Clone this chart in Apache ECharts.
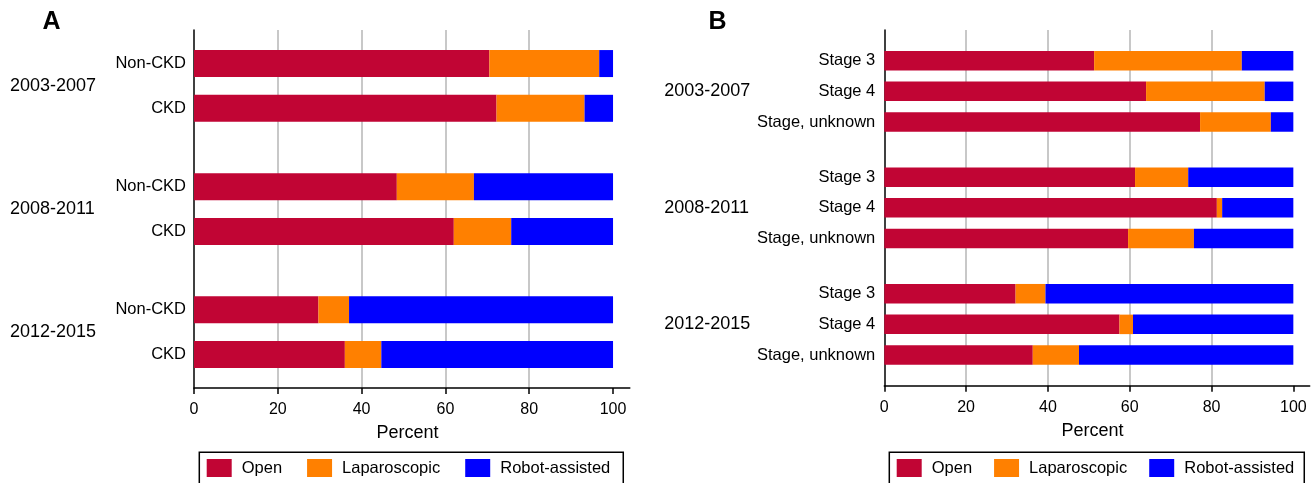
<!DOCTYPE html>
<html><head><meta charset="utf-8">
<script src="https://cdn.jsdelivr.net/npm/echarts@6/dist/echarts.min.js"></script>
<style>html,body{margin:0;padding:0;background:#fff}#c{width:1316px;height:483px}</style>
</head><body><div id="c"></div>
<script>
const periods = ['2003-2007', '2008-2011', '2012-2015'];
const ckdGroups = ['Non-CKD', 'CKD'];
const stageGroups = ['Stage 3', 'Stage 4', 'Stage, unknown'];
const seriesNames = ['Open', 'Laparoscopic', 'Robot-assisted'];
const xTicks = [0, 20, 40, 60, 80, 100];
// Panel A (period x CKD group)
const openA  = [70.5, 72.2, 48.4, 62.0, 29.7, 36.0];
const lapA   = [26.2, 21.0, 18.4, 13.7, 7.3, 8.7];
const robotA = [3.3, 6.8, 33.2, 24.3, 63.0, 55.3];
// Panel B (period x stage)
const openB  = [51.3, 64.0, 77.2, 61.3, 81.3, 59.6, 32.1, 57.5, 36.3];
const lapB   = [36.1, 29.0, 17.3, 13.0, 1.3, 16.1, 7.3, 3.3, 11.3];
const robotB = [12.6, 7.0, 5.5, 25.7, 17.4, 24.3, 60.6, 39.2, 52.4];

const colors = ['#C10534', '#FF8000', '#0000FF'];
const FONT = '"Liberation Sans", Arial, sans-serif';

function buildSlots(groups, edge, within, between) {
  const rowIdx = [], centerIdx = [];
  let pos = edge;
  periods.forEach((p, pi) => {
    const start = pos;
    groups.forEach((g, gi) => { rowIdx.push(pos); if (gi < groups.length - 1) pos += within; });
    centerIdx.push((start + pos) / 2);
    if (pi < periods.length - 1) pos += between;
  });
  const n = pos + edge + 1;
  const sub = new Array(n).fill(''), per = new Array(n).fill('');
  let k = 0;
  periods.forEach((p, pi) => {
    groups.forEach(g => { sub[rowIdx[k]] = g; k++; });
    per[centerIdx[pi]] = p;
  });
  return { n, rowIdx, sub, per };
}
function pad(slots, vals) {
  const arr = new Array(slots.n).fill('-');
  slots.rowIdx.forEach((r, i) => { arr[r] = vals[i]; });
  return arr;
}

const slotsA = buildSlots(ckdGroups, 3, 4, 7);
const slotsB = buildSlots(stageGroups, 5, 5, 9);

function xAxisCfg(gi) {
  return {
    type: 'value', gridIndex: gi, min: 0, max: 104, position: 'bottom',
    axisLine: { show: true, lineStyle: { color: '#000', width: 1.5 } },
    axisTick: { show: true, length: 6, lineStyle: { color: '#000', width: 1.5 }, customValues: xTicks },
    axisLabel: { customValues: xTicks, color: '#000', fontSize: 16, fontFamily: FONT, margin: 14 },
    splitLine: { show: true, showMinLine: false, showMaxLine: false, lineStyle: { color: '#c8c8c8', width: 2 } },
    name: 'Percent', nameLocation: 'middle', nameGap: 36,
    nameTextStyle: { color: '#000', fontSize: 18, fontFamily: FONT, padding: [0, 9, 0, 0] }
  };
}
function yAxisSub(gi, slots, margin) {
  return {
    type: 'category', gridIndex: gi, position: 'left', data: slots.sub, inverse: true, boundaryGap: false,
    axisLine: { show: true, lineStyle: { color: '#000', width: 1.5 } },
    axisTick: { show: false }, splitLine: { show: false },
    axisLabel: { interval: 0, color: '#000', fontSize: 16.5, fontFamily: FONT, margin: margin }
  };
}
function yAxisPer(gi, slots, margin) {
  return {
    type: 'category', gridIndex: gi, position: 'left', offset: 0, data: slots.per, inverse: true, boundaryGap: false,
    axisLine: { show: false }, axisTick: { show: false }, splitLine: { show: false },
    axisLabel: { interval: 0, color: '#000', fontSize: 18, fontFamily: FONT, margin: margin, align: 'left' }
  };
}

const series = [];
[[openA, lapA, robotA], [openB, lapB, robotB]].forEach((vals, panel) => {
  const slots = panel === 0 ? slotsA : slotsB;
  vals.forEach((v, si) => {
    series.push({
      type: 'bar', name: seriesNames[si], stack: 'p' + panel,
      xAxisIndex: panel, yAxisIndex: panel * 2,
      barWidth: panel === 0 ? 27 : 19.5,
      itemStyle: { color: colors[si] },
      data: pad(slots, v), animation: false
    });
  });
});

function legendCfg(left, gap, padRight) {
  return {
    left: left, top: 452.3, orient: 'horizontal',
    data: seriesNames, icon: 'rect', itemWidth: 25, itemHeight: 18, itemGap: gap,
    borderColor: '#000', borderWidth: 1.5, padding: [6.7, padRight, 6.7, 7.4],
    textStyle: { color: '#000', fontSize: 16.5, fontFamily: FONT, padding: [0, 0, 0, 5] },
    selectedMode: false
  };
}

const chart = echarts.init(document.getElementById('c'));
chart.setOption({
  animation: false,
  color: colors,
  title: [
    { text: 'A', left: 42.5, top: 10, padding: 0, textStyle: { fontSize: 25, fontWeight: 'bold', color: '#000', fontFamily: FONT, lineHeight: 25 } },
    { text: 'B', left: 708.5, top: 10, padding: 0, textStyle: { fontSize: 25, fontWeight: 'bold', color: '#000', fontFamily: FONT, lineHeight: 25 } }
  ],
  grid: [
    { left: 194, top: 30, width: 435.8, height: 358, containLabel: false, outerBoundsMode: 'none' },
    { left: 884.3, top: 30, width: 425.4, height: 355.7, containLabel: false, outerBoundsMode: 'none' }
  ],
  xAxis: [xAxisCfg(0), xAxisCfg(1)],
  yAxis: [
    yAxisSub(0, slotsA, 8), yAxisPer(0, slotsA, 184),
    yAxisSub(1, slotsB, 9), yAxisPer(1, slotsB, 220)
  ],
  legend: [legendCfg(199.3, 25, 13), legendCfg(889.3, 22, 10)],
  series: series
});
</script>
</body></html>
